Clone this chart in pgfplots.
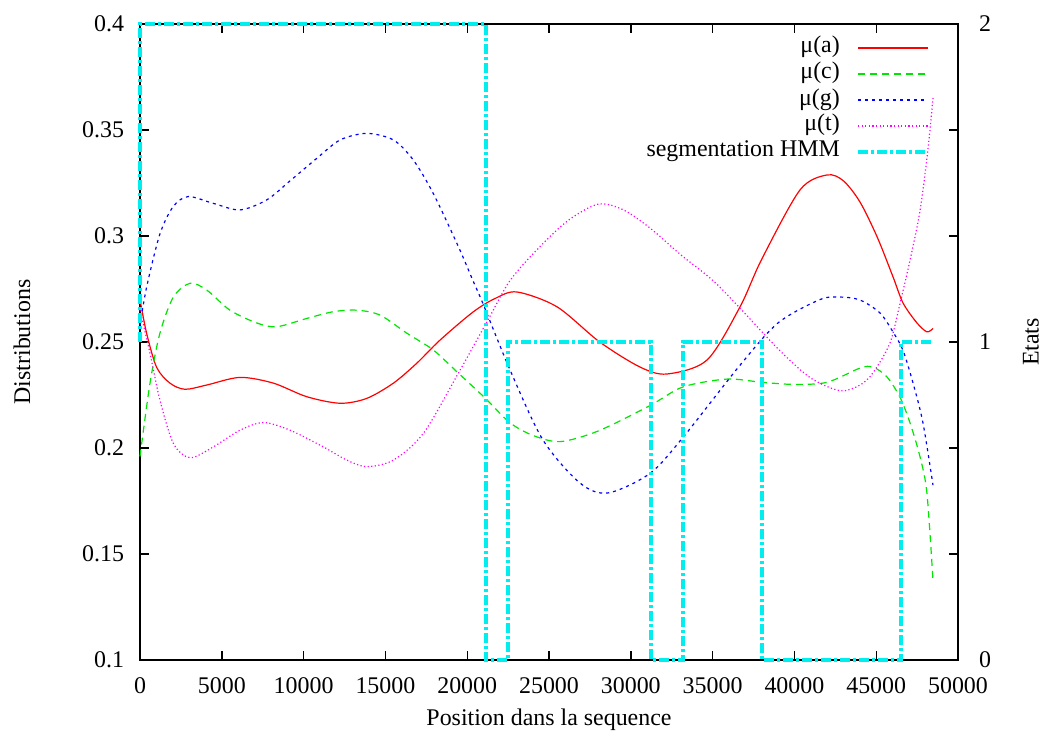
\documentclass[border=0pt]{standalone}
\usepackage{fontspec}
\setmainfont{Liberation Serif}
\usepackage{pgfplots}
\pgfplotsset{compat=1.18}
\definecolor{gpred}{RGB}{255,0,0}
\definecolor{gpgreen}{RGB}{0,230,0}
\definecolor{gpblue}{RGB}{0,0,255}
\definecolor{gpmag}{RGB}{255,0,255}
\definecolor{gpcyan}{RGB}{0,238,238}
\newcommand{\gpfont}{\fontsize{12}{14}\selectfont}
\tikzset{
  sA/.style={gpred, line width=0.6bp},
  sC/.style={gpgreen, line width=0.6bp, dash pattern=on 3.5bp off 2.5bp},
  sG/.style={gpblue, line width=0.6bp, dash pattern=on 1.5bp off 2bp},
  sT/.style={gpmag, line width=0.6bp, dash pattern=on 0.6bp off 1.2bp},
  sS/.style={gpcyan, line width=2bp, dash pattern=on 5bp off 1.5bp on 1.5bp off 1.5bp},
  legtext/.style={anchor=east, inner sep=0pt, font=\gpfont, text height=8bp, text depth=3bp},
}
\pgfplotsset{
  common/.style={
    at={(0,0)}, anchor=south west, scale only axis,
    width=409bp, height=318bp,
    xmin=0, xmax=50000,
    tick align=inside, major tick length=4.5bp,
    every tick/.style={black, line width=0.7bp},
    axis line style={line width=1bp},
    tick label style={font=\gpfont},
    label style={font=\gpfont},
    /pgf/number format/assume math mode=true,
  }
}
\begin{document}
\begin{tikzpicture}
\begin{axis}[common,
  ymin=0.1, ymax=0.4,
  xtick={0,5000,...,50000}, xtick pos=both,
  ytick={0.1,0.15,...,0.4}, ytick pos=left,
  scaled x ticks=false, scaled y ticks=false,
  xticklabel style={/pgf/number format/set thousands separator={}, /pgf/number format/fixed, yshift=-5.3bp},
  yticklabel style={/pgf/number format/fixed, /pgf/number format/precision=2, xshift=-4.5bp},
  xlabel={Position dans la sequence}, ylabel={Distributions},
  xlabel style={at={(axis description cs:0.5,-0.0943)}, anchor=center},
  ylabel style={at={(axis description cs:-0.1443,0.5)}, anchor=center},
  clip=false,
]
\addplot[sA, smooth] coordinates {
(0,0.270) (408,0.254) (1020,0.238) (1830,0.2306) (2750,0.2277) (4080,0.2297)
(6110,0.2333) (8150,0.2306) (10190,0.2242) (12230,0.2211) (13860,0.2234)
(15490,0.2306) (16920,0.2400) (18340,0.2509) (20350,0.2641) (21700,0.2705)
(23040,0.2736) (25490,0.2666) (28100,0.2500) (30560,0.2382) (32210,0.2349)
(34660,0.2415) (36670,0.2665) (38000,0.2890) (40340,0.3217) (42000,0.3288)
(43000,0.3260) (44010,0.3160) (45050,0.2997) (46030,0.2807) (46640,0.2684)
(47490,0.2590) (48100,0.2548) (48470,0.2564)};
\addplot[sC, smooth] coordinates {
(0,0.196) (610,0.2305) (1220,0.2542) (2040,0.2712) (3060,0.2777) (4080,0.2745)
(5500,0.2650) (7130,0.2590) (8360,0.2572) (10190,0.2611) (11820,0.2643)
(13250,0.2650) (14670,0.2627) (16300,0.2542) (17930,0.2462) (19460,0.2353)
(21090,0.2236) (22600,0.2120) (24000,0.2060) (25670,0.2030) (28000,0.2080)
(31170,0.2200) (33190,0.2288) (35880,0.2325) (38000,0.2310) (40000,0.2300)
(42000,0.2310) (44010,0.2377) (44800,0.2382) (45660,0.2335) (46450,0.2240)
(47070,0.2118) (47680,0.1958) (48100,0.1788) (48470,0.1377)};
\addplot[sG, smooth] coordinates {
(0,0.258) (408,0.276) (1220,0.301) (2040,0.314) (2955,0.3186) (4480,0.3154)
(6110,0.3123) (7740,0.3170) (9170,0.3260) (10800,0.3366) (12230,0.3453)
(13860,0.3484) (15490,0.3453) (16710,0.3358) (17930,0.3200) (19460,0.2950)
(20350,0.2790) (20970,0.2680) (22620,0.2368) (24630,0.2038) (26890,0.1835)
(28600,0.1788) (31170,0.1880) (33190,0.2050) (36670,0.2390) (39000,0.2590)
(41560,0.2700) (42800,0.2712) (44010,0.2698) (45230,0.2637) (46030,0.2547)
(46640,0.2460) (47250,0.2307) (47860,0.2118) (48470,0.1825)};
\addplot[sT, smooth] coordinates {
(0,0.265) (610,0.2447) (1220,0.2226) (2040,0.2022) (3060,0.1954) (4480,0.2005)
(6110,0.2084) (7540,0.2120) (9170,0.2084) (11210,0.2005) (12640,0.1943)
(13860,0.1912) (15490,0.1943) (17320,0.2069) (19460,0.2353) (21270,0.2604)
(22620,0.2790) (24450,0.2950) (26200,0.3075) (28000,0.3150) (29500,0.3125)
(31170,0.3038) (33000,0.2915) (35020,0.2790) (36670,0.2660) (39100,0.2460)
(41000,0.2330) (42800,0.2270) (44010,0.2297) (44800,0.2354) (45840,0.2495)
(46450,0.2680) (47070,0.2887) (47680,0.3120) (48160,0.3406) (48470,0.3650)};
% legend (key), gnuplot style: text, then sample line
\node[legtext] at (rel axis cs:0.8560,0.9623) {μ(a)};
\draw[sA] (rel axis cs:0.8778,0.9623) -- (rel axis cs:0.9633,0.9623);
\node[legtext] at (rel axis cs:0.8560,0.9214) {μ(c)};
\draw[sC] (rel axis cs:0.8778,0.9214) -- (rel axis cs:0.9633,0.9214);
\node[legtext] at (rel axis cs:0.8560,0.8805) {μ(g)};
\draw[sG] (rel axis cs:0.8778,0.8805) -- (rel axis cs:0.9633,0.8805);
\node[legtext] at (rel axis cs:0.8560,0.8397) {μ(t)};
\draw[sT] (rel axis cs:0.8778,0.8397) -- (rel axis cs:0.9633,0.8397);
\node[legtext] at (rel axis cs:0.8560,0.7988) {segmentation HMM};
\draw[sS] (rel axis cs:0.8778,0.7988) -- (rel axis cs:0.9633,0.7988);
\end{axis}
\begin{axis}[common,
  ymin=0, ymax=2, hide x axis, axis y line*=right,
  ytick={0,0.33333,0.66667,1,1.33333,1.66667,2},
  yticklabels={0,,,1,,,2},
  yticklabel style={xshift=7bp},
  ylabel={Etats},
  ylabel style={at={(axis description cs:1.0892,0.5)}, anchor=center},
  clip=false,
]
\addplot[sS] coordinates {
(0,1) (0,2) (21150,2) (21150,0) (22500,0) (22500,1) (31230,1) (31230,0)
(33200,0) (33200,1) (38020,1) (38020,0) (46500,0) (46500,1) (48480,1)};
\end{axis}
\pgfresetboundingbox
\path[use as bounding box] (-70bp,-38bp) rectangle (452bp,330bp);
\end{tikzpicture}
\end{document}
